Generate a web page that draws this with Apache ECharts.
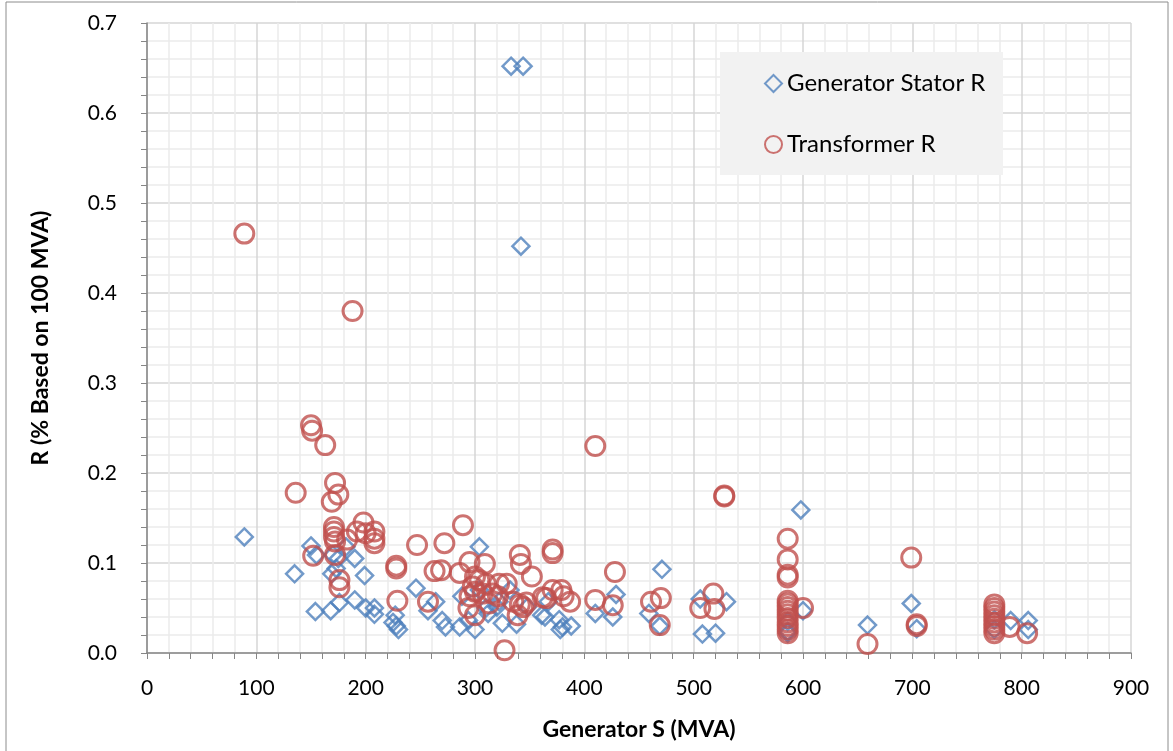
<!DOCTYPE html>
<html>
<head>
<meta charset="utf-8">
<title>Generator S vs R</title>
<script src="https://cdn.jsdelivr.net/npm/echarts@6/dist/echarts.min.js"></script>
<style>
  html, body { margin: 0; padding: 0; background: #fff; }
  #chart { width: 1173px; height: 751px; }
</style>
</head>
<body>
<div id="chart"></div>
<script>
// values: [Generator S (MVA), R (% on 100 MVA)]
const statorR = [
  [89, 0.129], [135, 0.088], [150, 0.119], [154, 0.046], [155, 0.109], [168, 0.047],
  [169, 0.088], [170, 0.109], [173, 0.094], [175, 0.105], [176, 0.056], [182, 0.118],
  [190, 0.105], [190, 0.059], [199, 0.086], [200, 0.050], [208, 0.050], [208, 0.043],
  [225, 0.034], [227, 0.042], [228, 0.030], [230, 0.026], [246, 0.072], [257, 0.047],
  [264, 0.057], [270, 0.036], [273, 0.029], [286, 0.029], [288, 0.063], [294, 0.036],
  [300, 0.026], [304, 0.118], [304, 0.070], [310, 0.050], [312, 0.044], [320, 0.051],
  [322, 0.057], [325, 0.033], [332, 0.070], [333, 0.652], [338, 0.032], [342, 0.452],
  [344, 0.652], [348, 0.051], [361, 0.042], [364, 0.040], [367, 0.057], [377, 0.037],
  [378, 0.026], [380, 0.029], [388, 0.030], [410, 0.044], [426, 0.040], [429, 0.065],
  [459, 0.044], [469, 0.030], [471, 0.093], [506, 0.060], [508, 0.021], [520, 0.022],
  [530, 0.057], [586, 0.024], [586, 0.022], [586, 0.035], [598, 0.159], [600, 0.047],
  [659, 0.031], [699, 0.055], [704, 0.027], [775, 0.037], [775, 0.026], [790, 0.036],
  [806, 0.036], [806, 0.026]
];

const transformerR = [
  [89, 0.466], [136, 0.178], [150, 0.253], [151, 0.247], [152, 0.108], [163, 0.231],
  [169, 0.168], [171, 0.140], [171, 0.135], [171, 0.129], [172, 0.189], [172, 0.124],
  [172, 0.109], [175, 0.176], [176, 0.081], [176, 0.073], [183, 0.126], [188, 0.380],
  [192, 0.135], [198, 0.145], [200, 0.133], [208, 0.135], [208, 0.127], [208, 0.122],
  [228, 0.097], [228, 0.094], [229, 0.058], [247, 0.120], [257, 0.057], [263, 0.091],
  [269, 0.092], [272, 0.122], [286, 0.089], [289, 0.142], [294, 0.050], [295, 0.101],
  [295, 0.063], [298, 0.074], [300, 0.085], [300, 0.068], [300, 0.042], [304, 0.081],
  [307, 0.066], [309, 0.099], [310, 0.077], [313, 0.055], [316, 0.066], [321, 0.063],
  [322, 0.077], [327, 0.003], [329, 0.077], [335, 0.057], [339, 0.042], [341, 0.054],
  [341, 0.109], [342, 0.099], [344, 0.051], [347, 0.056], [352, 0.085], [362, 0.062],
  [365, 0.061], [371, 0.115], [371, 0.111], [371, 0.070], [379, 0.070], [381, 0.063],
  [387, 0.057], [410, 0.230], [410, 0.059], [426, 0.053], [428, 0.090], [461, 0.057],
  [470, 0.061], [469, 0.031], [506, 0.050], [518, 0.066], [519, 0.049], [528, 0.175],
  [528, 0.174], [586, 0.127], [586, 0.104], [586, 0.087], [586, 0.084], [586, 0.058],
  [586, 0.055], [586, 0.051], [586, 0.047], [586, 0.043], [586, 0.039], [586, 0.034],
  [586, 0.030], [586, 0.026], [586, 0.022], [600, 0.050], [659, 0.010], [699, 0.106],
  [704, 0.032], [704, 0.030], [775, 0.054], [775, 0.050], [775, 0.046], [775, 0.042],
  [775, 0.038], [775, 0.034], [775, 0.030], [775, 0.026], [775, 0.022], [789, 0.029],
  [805, 0.022]
];

const seriesNames = ["Generator Stator R", "Transformer R"];

const chart = echarts.init(document.getElementById("chart"));

const font = "Lato, 'Open Sans', sans-serif";
const axisGray = "#868686";

const option = {
  animation: false,
  textStyle: { fontFamily: font },
  grid: { left: 147, top: 23, right: 42, bottom: 98 },
  graphic: [
    {
      type: "rect",
      shape: { x: 6, y: 2, width: 1162, height: 770 },
      style: { fill: "none", stroke: "#8c8c8c", lineWidth: 1 },
      silent: true
    },
    {
      type: "rect",
      shape: { x: 720, y: 52, width: 283, height: 123 },
      style: { fill: "#f2f2f2" },
      z: 5,
      silent: true
    }
  ],
  legend: {
    data: seriesNames,
    orient: "vertical",
    left: 759,
    top: 65,
    itemWidth: 17,
    itemHeight: 17,
    itemGap: 34,
    z: 10,
    textStyle: { fontFamily: font, fontSize: 24, color: "#000", lineHeight: 27 }
  },
  xAxis: {
    type: "value",
    min: 0,
    max: 900,
    interval: 100,
    name: "Generator S (MVA)",
    nameLocation: "middle",
    nameGap: 65,
    nameTextStyle: { fontFamily: font, fontSize: 23, fontWeight: "bold", color: "#000" },
    axisLine: { show: true, onZero: false, lineStyle: { color: axisGray, width: 1.5 } },
    axisTick: { show: true, length: 6, lineStyle: { color: axisGray } },
    minorTick: { show: true, splitNumber: 5, length: 6, lineStyle: { color: axisGray } },
    axisLabel: { fontSize: 21, color: "#000", margin: 25 },
    splitLine: { show: true, lineStyle: { color: "#d6d6d6", width: 1.5 } },
    minorSplitLine: { show: true, lineStyle: { color: "#ececec", width: 1.5 } }
  },
  yAxis: {
    type: "value",
    min: 0,
    max: 0.7,
    interval: 0.1,
    name: "R (% Based on 100 MVA)",
    nameLocation: "middle",
    nameGap: 95,
    nameTextStyle: { fontFamily: font, fontSize: 23, fontWeight: "bold", color: "#000" },
    axisLine: { show: true, onZero: false, lineStyle: { color: axisGray, width: 1.5 } },
    axisTick: { show: true, length: 6, lineStyle: { color: axisGray } },
    minorTick: { show: true, splitNumber: 5, length: 6, lineStyle: { color: axisGray } },
    axisLabel: {
      fontSize: 21,
      color: "#000",
      margin: 30,
      formatter: (v) => v.toFixed(1)
    },
    splitLine: { show: true, lineStyle: { color: "#d6d6d6", width: 1.5 } },
    minorSplitLine: { show: true, lineStyle: { color: "#ececec", width: 1.5 } }
  },
  series: [
    {
      name: seriesNames[0],
      type: "scatter",
      symbol: "diamond",
      symbolSize: 17,
      data: statorR,
      itemStyle: { color: "rgba(0,0,0,0)", borderColor: "#4f81bd", borderWidth: 2.5 }
    },
    {
      name: seriesNames[1],
      type: "scatter",
      symbol: "circle",
      symbolSize: 19,
      data: transformerR,
      itemStyle: { color: "rgba(0,0,0,0)", borderColor: "#c0504d", borderWidth: 3 }
    }
  ]
};

chart.setOption(option);
</script>
</body>
</html>
